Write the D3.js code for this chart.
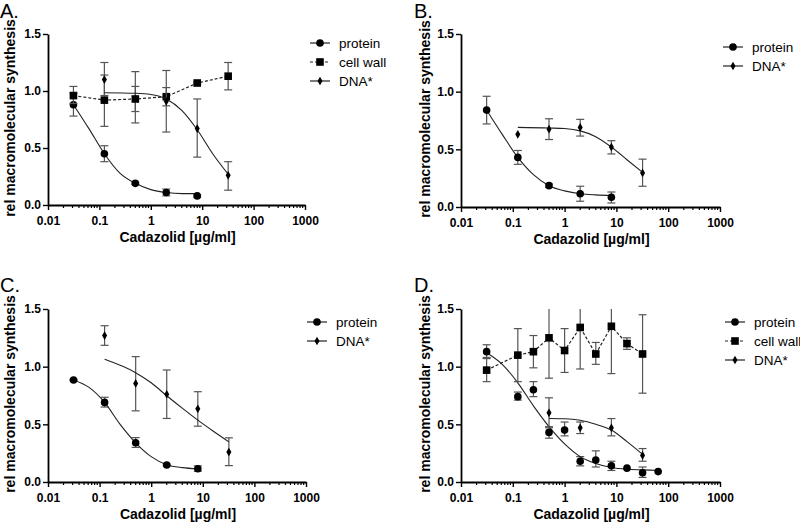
<!DOCTYPE html>
<html>
<head>
<meta charset="utf-8">
<script src="https://cdn.jsdelivr.net/npm/d3@7"></script>
<style>
  body { margin: 0; background: #fff; }
  text { font-family: "Liberation Sans", Arial, sans-serif; }
</style>
</head>
<body>
<svg width="800" height="522"></svg>
<script>
const xTicks = [0.01, 0.1, 1, 10, 100, 1000];
const yTicks = [0, 0.5, 1.0, 1.5];

// measured points: [conc, mean, low, high]
const aProtein = [[0.03125, 0.88, 0.78, 0.98], [0.125, 0.45, 0.38, 0.52], [0.5, 0.19, 0.18, 0.20], [2, 0.11, 0.08, 0.14], [8, 0.08, 0.07, 0.09]];
const aCellWall = [[0.03125, 0.96, 0.89, 1.04], [0.125, 0.92, 0.69, 1.14], [0.5, 0.93, 0.72, 1.17], [2, 0.95, 0.64, 1.18], [8, 1.07, 1.06, 1.08], [32, 1.13, 1.01, 1.25]];
const aDNA = [[0.125, 1.10, 0.96, 1.25], [0.5, 0.93, 0.82, 1.04], [2, 0.91, 0.87, 1.03], [8, 0.67, 0.42, 0.93], [32, 0.26, 0.13, 0.38]];

const bProtein = [[0.03125, 0.84, 0.72, 0.96], [0.125, 0.43, 0.37, 0.49], [0.5, 0.185, 0.17, 0.20], [2, 0.115, 0.05, 0.18], [8, 0.085, 0.035, 0.13]];
const bDNA = [[0.125, 0.63, 0.63, 0.63], [0.5, 0.675, 0.585, 0.765], [2, 0.69, 0.615, 0.76], [8, 0.52, 0.46, 0.575], [32, 0.295, 0.18, 0.415]];

const cProtein = [[0.03125, 0.885, 0.88, 0.89], [0.125, 0.69, 0.65, 0.735], [0.5, 0.34, 0.30, 0.385], [2, 0.148, 0.14, 0.155], [8, 0.115, 0.093, 0.14]];
const cDNA = [[0.125, 1.27, 1.185, 1.355], [0.5, 0.855, 0.617, 1.087], [2, 0.76, 0.551, 0.971], [8, 0.635, 0.484, 0.783], [32, 0.26, 0.142, 0.383]];

const dProtein = [[0.03125, 1.13, 1.08, 1.19], [0.125, 0.74, 0.71, 0.78], [0.25, 0.80, 0.74, 0.87], [0.5, 0.43, 0.38, 0.48], [1, 0.45, 0.40, 0.52], [2, 0.18, 0.14, 0.22], [4, 0.19, 0.13, 0.27], [8, 0.14, 0.10, 0.18], [16, 0.12, 0.12, 0.12], [32, 0.08, 0.04, 0.13], [64, 0.09, 0.09, 0.09]];
const dCellWall = [[0.03125, 0.97, 0.87, 1.07], [0.125, 1.10, 0.87, 1.33], [0.25, 1.13, 0.99, 1.27], [0.5, 1.25, 0.90, 1.60], [1, 1.14, 0.95, 1.33], [2, 1.34, 0.98, 1.70], [4, 1.11, 1.02, 1.21], [8, 1.35, 0.94, 1.76], [16, 1.20, 1.15, 1.25], [32, 1.11, 0.77, 1.45]];
const dDNA = [[0.5, 0.60, 0.47, 0.73], [2, 0.47, 0.42, 0.52], [8, 0.47, 0.40, 0.55], [32, 0.23, 0.18, 0.29]];

// fitted curves: [conc, value]
const aProteinFit = [[0.03125, 0.88], [0.0625, 0.67], [0.125, 0.45], [0.25, 0.28], [0.5, 0.19], [1, 0.135], [2, 0.11], [4, 0.10], [8, 0.10]];
const aDNAFit = [[0.125, 0.985], [0.5, 0.98], [1, 0.97], [2, 0.93], [4, 0.83], [8, 0.66], [16, 0.45], [32, 0.27]];
const bProteinFit = [[0.03125, 0.84], [0.0625, 0.63], [0.125, 0.43], [0.25, 0.28], [0.5, 0.185], [1, 0.14], [2, 0.115], [4, 0.105], [8, 0.10]];
const bDNAFit = [[0.125, 0.69], [0.5, 0.685], [1, 0.68], [2, 0.66], [4, 0.61], [8, 0.52], [16, 0.41], [32, 0.30]];
const cProteinFit = [[0.03125, 0.885], [0.0625, 0.82], [0.125, 0.69], [0.25, 0.50], [0.5, 0.34], [1, 0.22], [2, 0.15], [4, 0.125], [8, 0.115]];
const cDNAFit = [[0.125, 1.064], [0.5, 0.948], [1, 0.86], [2, 0.748], [4, 0.64], [8, 0.536], [16, 0.44], [32, 0.348]];
const dProteinFit = [[0.03125, 1.12], [0.0625, 1.02], [0.125, 0.86], [0.25, 0.66], [0.5, 0.48], [1, 0.33], [2, 0.22], [4, 0.16], [8, 0.125], [16, 0.11], [32, 0.105], [64, 0.10]];
const dDNAFit = [[0.5, 0.55], [1, 0.548], [2, 0.535], [4, 0.50], [8, 0.45], [16, 0.35], [32, 0.24]];

const panels = [
  { label: "A.", lx: 0, ly: 18, x0: 48, x1: 305, yb: 205, yt: 34, ytx: 15, legX: 310, legY: 43,
    series: [
      { name: "protein", pts: aProtein, fit: aProteinFit, mark: "circle" },
      { name: "cell wall", pts: aCellWall, mark: "square", dashed: true },
      { name: "DNA*", pts: aDNA, fit: aDNAFit, mark: "diamond" }] },
  { label: "B.", lx: 414, ly: 18, x0: 461, x1: 720, yb: 207, yt: 34, ytx: 430, legX: 723, legY: 47,
    series: [
      { name: "protein", pts: bProtein, fit: bProteinFit, mark: "circle" },
      { name: "DNA*", pts: bDNA, fit: bDNAFit, mark: "diamond" }] },
  { label: "C.", lx: 0, ly: 292, x0: 48, x1: 306, yb: 482, yt: 309, ytx: 15, legX: 307, legY: 322,
    series: [
      { name: "protein", pts: cProtein, fit: cProteinFit, mark: "circle" },
      { name: "DNA*", pts: cDNA, fit: cDNAFit, mark: "diamond" }] },
  { label: "D.", lx: 414, ly: 292, x0: 461, x1: 720, yb: 482, yt: 309, ytx: 430, legX: 725, legY: 322,
    series: [
      { name: "protein", pts: dProtein, fit: dProteinFit, mark: "circle" },
      { name: "cell wall", pts: dCellWall, mark: "square", dashed: true },
      { name: "DNA*", pts: dDNA, fit: dDNAFit, mark: "diamond" }] }
];

const svg = d3.select("svg");
const ink = "#222";
const barInk = "#555";

function drawMark(g, type, cx, cy) {
  if (type === "circle") {
    g.append("circle").attr("cx", cx).attr("cy", cy).attr("r", 3.8).attr("fill", "#000");
  } else if (type === "square") {
    g.append("rect").attr("x", cx - 3.8).attr("y", cy - 3.8).attr("width", 7.6).attr("height", 7.6).attr("fill", "#000");
  } else {
    g.append("path").attr("d", d3.symbol(d3.symbolDiamond, 22)()).attr("transform", `translate(${cx},${cy})`).attr("fill", "#000");
  }
}

panels.forEach((p) => {
  const g = svg.append("g");
  const x = d3.scaleLog().domain([0.01, 1000]).range([p.x0, p.x1]);
  const y = d3.scaleLinear().domain([0, 1.5]).range([p.yb, p.yt]);

  // panel letter
  g.append("text").attr("x", p.lx).attr("y", p.ly).attr("font-size", 20).attr("fill", "#000").text(p.label);

  // x axis with log minor ticks
  const xa = g.append("g").attr("transform", `translate(0,${p.yb})`)
    .call(d3.axisBottom(x).tickValues(xTicks).tickFormat((d) => String(d)).tickSize(5).tickSizeOuter(0).tickPadding(6));
  const minor = [];
  xTicks.slice(0, -1).forEach((dec) => { for (let k = 2; k <= 9; k++) minor.push(dec * k); });
  xa.selectAll(".minor").data(minor).enter().append("line").attr("class", "minor")
    .attr("x1", (d) => x(d)).attr("x2", (d) => x(d)).attr("y1", 0).attr("y2", 3)
    .attr("stroke", "#000").attr("stroke-width", 1.2);

  // y axis
  const ya = g.append("g").attr("transform", `translate(${p.x0},0)`)
    .call(d3.axisLeft(y).tickValues(yTicks).tickFormat(d3.format(".1f")).tickSize(5).tickSizeOuter(0).tickPadding(2));

  [xa, ya].forEach((a) => {
    a.select(".domain").attr("stroke", "#000").attr("stroke-width", 1.8);
    a.selectAll(".tick line").attr("stroke", "#000").attr("stroke-width", 1.4);
    a.selectAll(".tick text").attr("font-size", 12).attr("font-weight", "bold").attr("fill", "#000")
      .attr("font-family", "Liberation Sans, Arial, sans-serif");
  });

  // axis titles
  g.append("text").attr("x", (p.x0 + p.x1) / 2 + 1).attr("y", p.yb + 37).attr("text-anchor", "middle")
    .attr("font-size", 14).attr("font-weight", "bold").text("Cadazolid [µg/ml]");
  g.append("text").attr("transform", `translate(${p.ytx},${(p.yb + p.yt) / 2 - 1.5}) rotate(-90)`)
    .attr("text-anchor", "middle").attr("font-size", 14).attr("font-weight", "bold").text("rel macromolecular synthesis");

  const line = d3.line().x((d) => x(d[0])).y((d) => y(d[1]));

  p.series.forEach((s, i) => {
    const sg = g.append("g");
    // error bars
    s.pts.forEach((d) => {
      if (d[2] === d[3]) return;
      const cx = x(d[0]);
      const hiClip = d[3] > 1.5;
      const hi = Math.min(d[3], 1.5);
      sg.append("line").attr("x1", cx).attr("x2", cx).attr("y1", y(d[2])).attr("y2", y(hi))
        .attr("stroke", barInk).attr("stroke-width", 1.2);
      sg.append("line").attr("x1", cx - 4).attr("x2", cx + 4).attr("y1", y(d[2])).attr("y2", y(d[2]))
        .attr("stroke", barInk).attr("stroke-width", 1.2);
      if (!hiClip) {
        sg.append("line").attr("x1", cx - 4).attr("x2", cx + 4).attr("y1", y(hi)).attr("y2", y(hi))
          .attr("stroke", barInk).attr("stroke-width", 1.2);
      }
    });
    // connecting line or fitted curve
    if (s.fit) {
      sg.append("path").attr("d", line.curve(d3.curveMonotoneX)(s.fit)).attr("fill", "none")
        .attr("stroke", ink).attr("stroke-width", 1.1);
    } else {
      sg.append("path").attr("d", line.curve(d3.curveLinear)(s.pts)).attr("fill", "none")
        .attr("stroke", ink).attr("stroke-width", 1.2).attr("stroke-dasharray", s.dashed ? "3,2" : null);
    }
    s.pts.forEach((d) => drawMark(sg, s.mark, x(d[0]), y(d[1])));

    // legend entry
    const ly = p.legY + i * 19;
    g.append("line").attr("x1", p.legX).attr("x2", p.legX + 20).attr("y1", ly).attr("y2", ly)
      .attr("stroke", ink).attr("stroke-width", 1.2).attr("stroke-dasharray", s.dashed ? "3,2" : null);
    drawMark(g, s.mark, p.legX + 10, ly);
    g.append("text").attr("x", p.legX + 29).attr("y", ly + 4.5).attr("font-size", 13.5).attr("fill", "#000").text(s.name);
  });
});
</script>
</body>
</html>
